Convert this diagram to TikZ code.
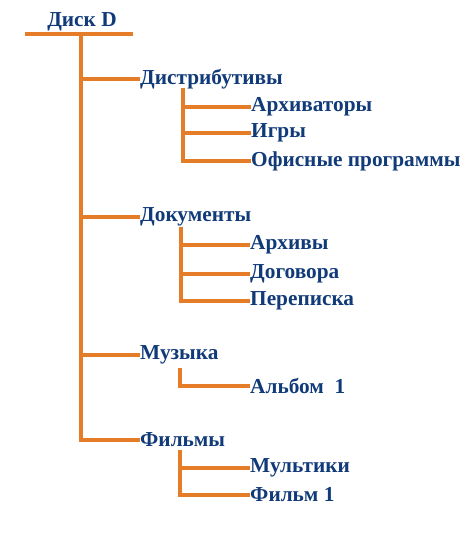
\documentclass[tikz,border=0pt]{standalone}
\usepackage{fontspec}
\setmainfont{Liberation Serif}
\definecolor{treeblue}{RGB}{16,58,120}
\definecolor{treeorange}{RGB}{228,124,40}
\tikzset{
  folder/.style={anchor=west,inner sep=0pt,text=treeblue,font=\bfseries\fontsize{21.3}{25}\selectfont},
  branch/.style={draw=treeorange,line width=4.5pt}
}
\begin{document}
\begin{tikzpicture}[x=1pt,y=-1pt]
  \useasboundingbox (0,0) rectangle (460,534);
  \node[folder,anchor=center] (disk) at (82,22) {Диск D};
  \draw
    (140,79) node[folder] (distr){Дистрибутивы}
    (251,107) node[folder] (arch){Архиваторы}
    (251,133) node[folder] (games){Игры}
    (251,161) node[folder] (office){Офисные программы}
    (140,217) node[folder] (docs){Документы}
    (250,245) node[folder] (archives){Архивы}
    (250,274) node[folder] (contracts){Договора}
    (250,301) node[folder] (letters){Переписка}
    (140,355) node[folder] (music){Музыка}
    (250,386) node[folder] (album){Альбом\ \ 1}
    (140,440) node[folder] (films){Фильмы}
    (250,468) node[folder] (cartoons){Мультики}
    (250,495) node[folder] (film){Фильм 1};
  \coordinate (barL) at (25,34);
  \coordinate (barR) at (133,34);
  \coordinate (trunk) at (81,34);
  \coordinate (distrT) at (183,88);
  \coordinate (docsT) at (181,227);
  \coordinate (musicT) at (180,368);
  \coordinate (filmsT) at (180,450);
  \begin{scope}[branch]
    \draw (barL) -- (barR);
    \draw (trunk) |- (distr.west);
    \draw (trunk) |- (docs.west);
    \draw (trunk) |- (music.west);
    \draw (trunk) |- (films.west);
    \draw (distrT) |- (arch.west);
    \draw (distrT) |- (games.west);
    \draw (distrT) |- (office.west);
    \draw (docsT) |- (archives.west);
    \draw (docsT) |- (contracts.west);
    \draw (docsT) |- (letters.west);
    \draw (musicT) |- (album.west);
    \draw (filmsT) |- (cartoons.west);
    \draw (filmsT) |- (film.west);
  \end{scope}
\end{tikzpicture}
\end{document}
